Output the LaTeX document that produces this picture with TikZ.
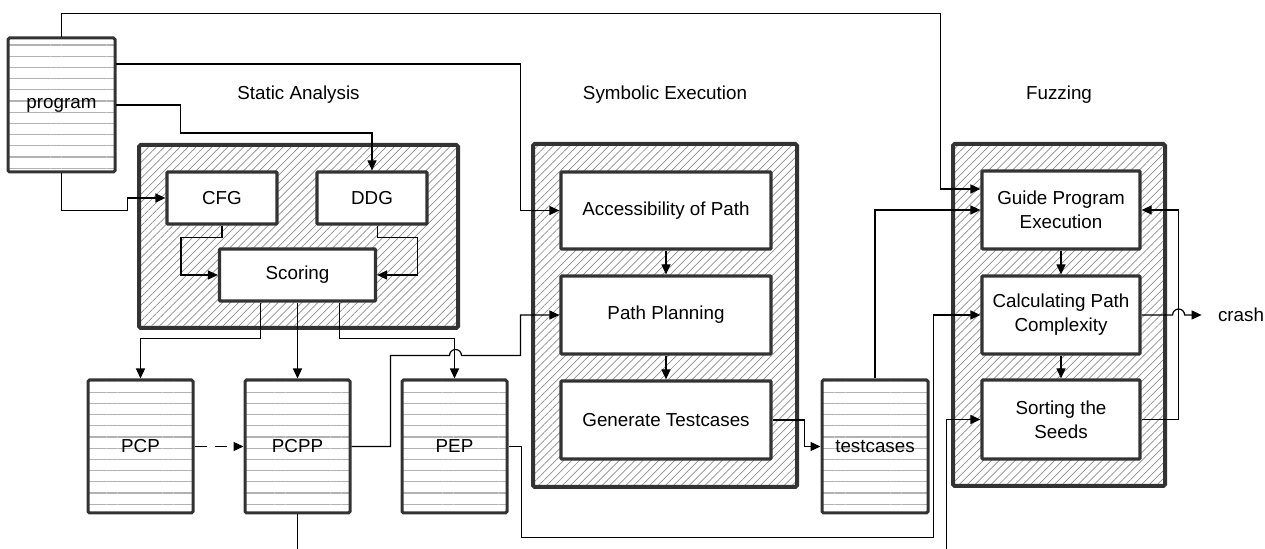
\documentclass[tikz,border=0pt]{standalone}
\usepackage{fontspec}
\setmainfont{Liberation Sans}
\usetikzlibrary{arrows.meta,patterns.meta,calc}

\begin{document}
\begin{tikzpicture}[x=0.5pt,y=-0.5pt,
  font=\fontsize{9.4}{12}\selectfont,
  store/.style={draw=black!80,line width=1.5pt,rounded corners=0.8pt,inner sep=0pt,
    minimum width=52.5pt,minimum height=66.5pt,
    pattern={Lines[angle=0,distance=5.6pt,line width=0.6pt]},pattern color=black!30},
  group/.style={draw=black!80,line width=2pt,rounded corners=0.8pt,inner sep=0pt,
    pattern={Lines[angle=45,distance=2.8pt,line width=0.35pt]},pattern color=black!45},
  proc/.style={draw=black!80,line width=1.6pt,fill=white,rounded corners=0.5pt,
    align=center,inner sep=0pt},
  conn/.style={line width=0.6pt,-{Triangle[length=5pt,width=4.5pt]}}]
  \clip (0,0) rectangle (1265,549);
  \node[store,minimum width=53.5pt,minimum height=67pt] (prog) at (61.5,105) {program};
  \node[store] (pcp) at (140.5,446.5) {PCP};
  \node[store] (pcpp) at (297.5,446.5) {PCPP};
  \node[store] (pep) at (454.5,446.5) {PEP};
  \node[store,minimum width=53pt] (tc) at (875,446.5) {testcases};
  \node[group,minimum width=159.5pt,minimum height=91.5pt] (sa) at (298.5,236.5) {};
  \node[group,minimum width=132pt,minimum height=171.5pt] (se) at (665,315.5) {};
  \node[group,minimum width=106pt,minimum height=171pt] (fz) at (1059,315) {};
  \node (satitle) at (298.5,95) {Static Analysis};
  \node (setitle) at (665,95) {Symbolic Execution};
  \node (fztitle) at (1059,95) {Fuzzing};
  \node[proc,minimum width=55pt,minimum height=26pt] (cfg) at (222,198) {CFG};
  \node[proc,minimum width=55pt,minimum height=26pt] (ddg) at (372,198) {DDG};
  \node[proc,minimum width=78pt,minimum height=26pt] (score) at (297.5,275) {Scoring};
  \node[proc,minimum width=105pt,minimum height=38.5pt] (access) at (666,210.5) {Accessibility of Path};
  \node[proc,minimum width=105pt,minimum height=39pt] (plan) at (666,315) {Path Planning};
  \node[proc,minimum width=105pt,minimum height=39pt] (gen) at (666,420) {Generate Testcases};
  \node[proc,minimum width=79pt,minimum height=39pt] (guide) at (1061,210) {Guide Program\\Execution};
  \node[proc,minimum width=79pt,minimum height=39pt] (calc) at (1061,315) {Calculating Path\\Complexity};
  \node[proc,minimum width=79pt,minimum height=39.5pt] (sort) at (1061,419.5) {Sorting the\\Seeds};
  \node[inner xsep=8pt] (crash) at (1241,315) {crash};
  \draw[conn] (prog.north) -- ++(0,-24) -| ($(guide.west)+(-40,-21)$) -- ($(guide.west)+(0,-21)$);
  \draw[conn] ($(prog.east)+(0,-41)$) -| ($(access.west)+(-39,0)$) -- (access.west);
  \draw[conn] (prog.east) -| ++(65,28) -| (ddg.north);
  \draw[conn] (prog.south) |- ++(66,38) |- (cfg.west);
  \draw[conn] (cfg.south) |- ++(-41,12) |- (score.west);
  \draw[conn] (ddg.south -| score.east) |- ++(40,12) |- (score.east);
  \draw[conn] ($(score.south)+(-37,0)$) |- ($(pcp.north)+(0,-40)$) -- (pcp.north);
  \draw[conn] (score.south) -- (pcpp.north);
  \draw[conn] ($(score.south)+(42,0)$) |- ($(pep.north)+(0,-40)$) -- (pep.north);
  \draw[conn,dash pattern=on 6pt off 4pt] (pcp.east) -- (pcpp.west);
  \draw[conn] (pcpp.east) -| ++(39,-91) -- ++(59,0) arc[start angle=180,end angle=360,radius=6]
    -| ($(plan.west)+(-39,0)$) -- (plan.west);
  \draw[conn] (pep.east) -| ++(13,91) -| ($(calc.west)+(-47,0)$) -- (calc.west);
  \draw[conn] (pcpp.south) -- ++(0,60) -| ($(sort.west)+(-34,0)$) -- (sort.west);
  \draw[conn] (access) -- (plan);
  \draw[conn] (plan) -- (gen);
  \draw[conn] (gen.east) -| ($(tc.west)+(-16,0)$) -- (tc.west);
  \draw[conn] (tc.north) |- (guide.west);
  \draw[conn] (guide) -- (calc);
  \draw[conn] (calc) -- (sort);
  \draw[conn] (sort.east) -| ($(guide.east)+(37,0)$) -- (guide.east);
  \draw[conn] (calc.east) -- ++(31,0) arc[start angle=180,end angle=360,radius=6] -- (crash.west);
\end{tikzpicture}
\end{document}
